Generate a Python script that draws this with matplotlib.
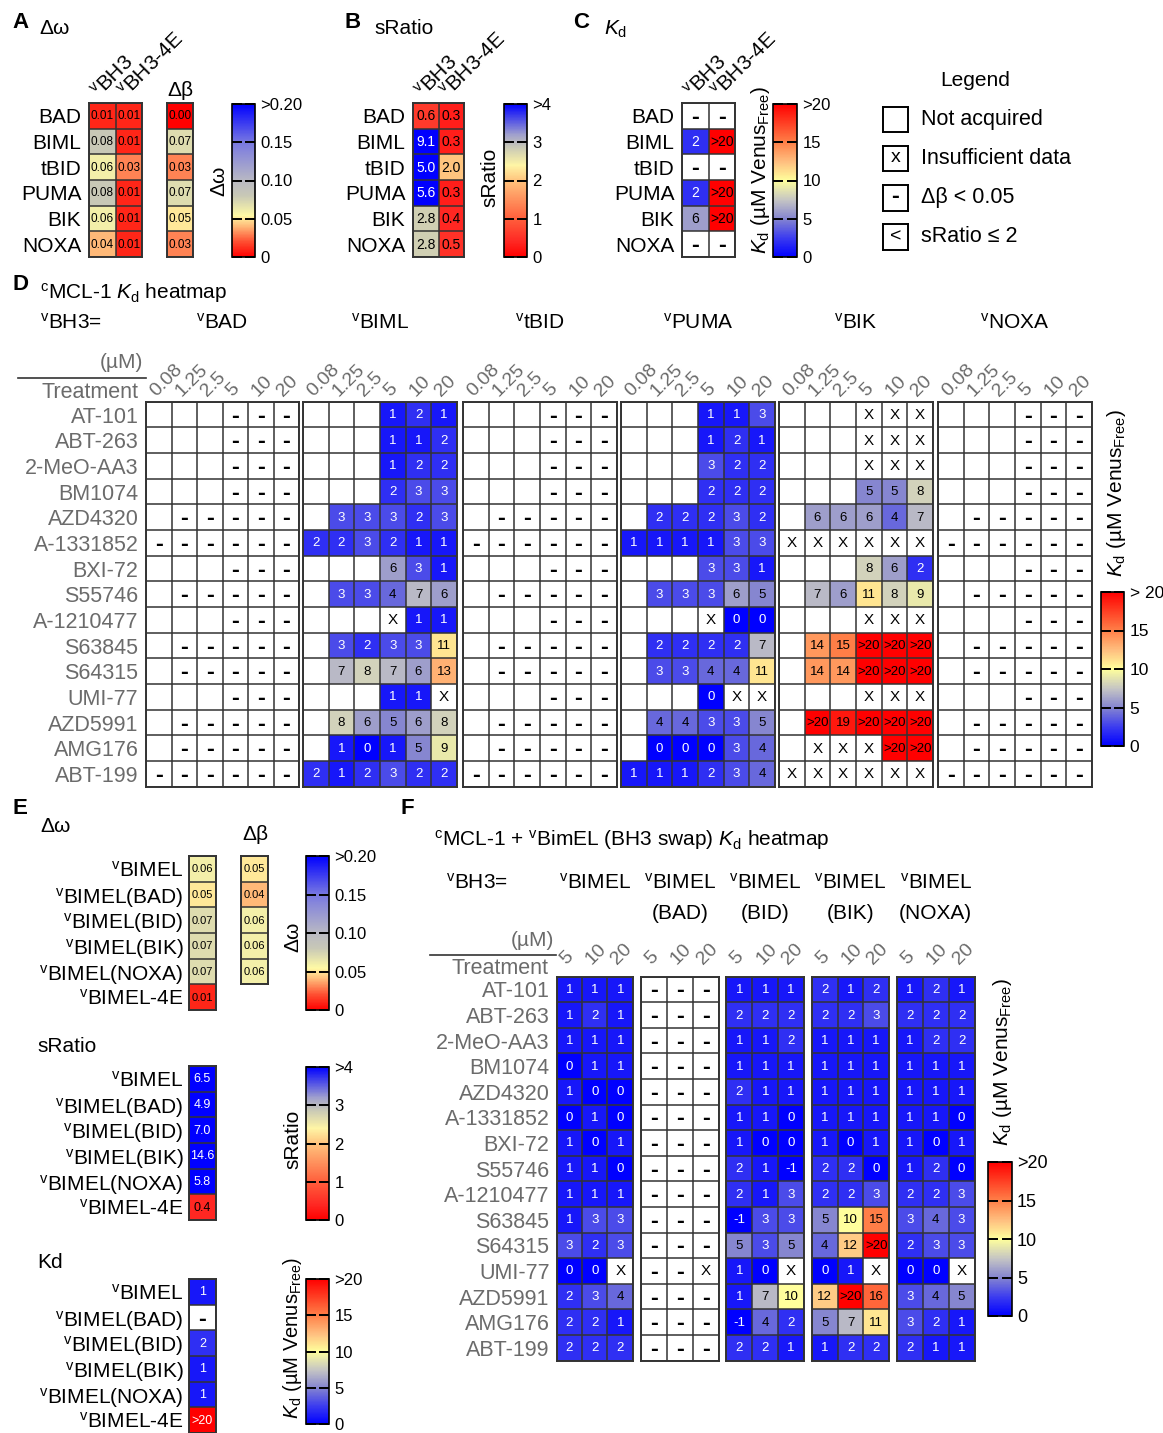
import numpy as np
import matplotlib
matplotlib.use('Agg')
import matplotlib.pyplot as plt
from matplotlib.colors import LinearSegmentedColormap, Normalize
from matplotlib.cm import ScalarMappable
from matplotlib.lines import Line2D

plt.rcParams['font.family'] = ['Liberation Sans', 'DejaVu Sans']
plt.rcParams['mathtext.fontset'] = 'custom'
plt.rcParams['mathtext.rm'] = 'Liberation Sans'
plt.rcParams['mathtext.it'] = 'Liberation Sans:italic'
plt.rcParams['mathtext.bf'] = 'Liberation Sans:bold'

# ---------------- data ----------------
bh3_names = ['BAD', 'BIML', 'tBID', 'PUMA', 'BIK', 'NOXA']
a_dw_bh3 = [0.01, 0.08, 0.06, 0.08, 0.06, 0.04]
a_dw_4e = [0.01, 0.01, 0.03, 0.01, 0.01, 0.01]
a_dbeta = [0.00, 0.07, 0.03, 0.07, 0.05, 0.03]
b_sr_bh3 = [0.6, 9.1, 5.0, 5.6, 2.8, 2.8]
b_sr_4e = [0.3, 0.3, 2.0, 0.3, 0.4, 0.5]
c_kd_bh3 = ['-', '2', '-', '2', '6', '-']
c_kd_4e = ['-', '>20', '-', '>20', '>20', '-']

treatments = ['AT-101', 'ABT-263', '2-MeO-AA3', 'BM1074', 'AZD4320', 'A-1331852',
              'BXI-72', 'S55746', 'A-1210477', 'S63845', 'S64315', 'UMI-77',
              'AZD5991', 'AMG176', 'ABT-199']
d_concs = ['0.08', '1.25', '2.5', '5', '10', '20']
d_groups = ['BAD', 'BIML', 'tBID', 'PUMA', 'BIK', 'NOXA']
# '.' = not acquired, '-' = delta beta < 0.05, 'X' = insufficient data
d_BAD = ['. . . - - -', '. . . - - -', '. . . - - -', '. . . - - -', '. - - - - -',
         '- - - - - -', '. . . - - -', '. - - - - -', '. . . - - -', '. - - - - -',
         '. - - - - -', '. . . - - -', '. - - - - -', '. - - - - -', '- - - - - -']
d_BIML = ['. . . 1 2 1', '. . . 1 1 2', '. . . 1 2 2', '. . . 2 3 3', '. 3 3 3 2 3',
          '2 2 3 2 1 1', '. . . 6 3 1', '. 3 3 4 7 6', '. . . X 1 1', '. 3 2 3 3 11',
          '. 7 8 7 6 13', '. . . 1 1 X', '. 8 6 5 6 8', '. 1 0 1 5 9', '2 1 2 3 2 2']
d_tBID = ['. . . - - -', '. . . - - -', '. . . - - -', '. . . - - -', '. - - - - -',
          '- - - - - -', '. . . - - -', '. - - - - -', '. . . - - -', '. - - - - -',
          '. - - - - -', '. . . - - -', '. - - - - -', '. - - - - -', '- - - - - -']
d_PUMA = ['. . . 1 1 3', '. . . 1 2 1', '. . . 3 2 2', '. . . 2 2 2', '. 2 2 2 3 2',
          '1 1 1 1 3 3', '. . . 3 3 1', '. 3 3 3 6 5', '. . . X 0 0', '. 2 2 2 2 7',
          '. 3 3 4 4 11', '. . . 0 X X', '. 4 4 3 3 5', '. 0 0 0 3 4', '1 1 1 2 3 4']
d_BIK = ['. . . X X X', '. . . X X X', '. . . X X X', '. . . 5 5 8', '. 6 6 6 4 7',
         'X X X X X X', '. . . 8 6 2', '. 7 6 11 8 9', '. . . X X X', '. 14 15 >20 >20 >20',
         '. 14 14 >20 >20 >20', '. . . X X X', '. >20 19 >20 >20 >20', '. X X X >20 >20',
         'X X X X X X']
d_NOXA = ['. . . - - -', '. . . - - -', '. . . - - -', '. . . - - -', '. - - - - -',
          '- - - - - -', '. . . - - -', '. - - - - -', '. . . - - -', '. - - - - -',
          '. - - - - -', '. . . - - -', '. - - - - -', '. - - - - -', '- - - - - -']

e_names = ['BIMEL', 'BIMEL(BAD)', 'BIMEL(BID)', 'BIMEL(BIK)', 'BIMEL(NOXA)', 'BIMEL-4E']
e_dw = [0.06, 0.05, 0.07, 0.07, 0.07, 0.01]
e_dbeta = [0.05, 0.04, 0.06, 0.06, 0.06]
e_sr = [6.5, 4.9, 7.0, 14.6, 5.8, 0.4]
e_kd = ['1', '-', '2', '1', '1', '>20']

f_concs = ['5', '10', '20']
f_groups = ['', '(BAD)', '(BID)', '(BIK)', '(NOXA)']
f_BIMEL = ['1 1 1', '1 2 1', '1 1 1', '0 1 1', '1 0 0', '0 1 0', '1 0 1', '1 1 0',
           '1 1 1', '1 3 3', '3 2 3', '0 0 X', '2 3 4', '2 2 1', '2 2 2']
f_BAD = ['- - -', '- - -', '- - -', '- - -', '- - -', '- - -', '- - -', '- - -',
         '- - -', '- - -', '- - -', '- - X', '- - -', '- - -', '- - -']
f_BID = ['1 1 1', '2 2 2', '1 1 2', '1 1 1', '2 1 1', '1 1 0', '1 0 0', '2 1 -1',
         '2 1 3', '-1 3 3', '5 3 5', '1 0 X', '1 7 10', '-1 4 2', '2 2 1']
f_BIK = ['2 1 2', '2 2 3', '1 1 1', '1 1 1', '1 1 1', '1 1 1', '1 0 1', '2 2 0',
         '2 2 3', '5 10 15', '4 12 >20', '0 1 X', '12 >20 16', '5 7 11', '1 2 2']
f_NOXA = ['1 2 1', '2 2 2', '1 2 2', '1 1 1', '1 1 1', '1 1 0', '1 0 1', '1 2 0',
          '2 2 3', '3 4 3', '2 3 3', '0 0 X', '3 4 5', '3 2 1', '2 1 1']

# ---------------- colormaps ----------------
kd_cmap = LinearSegmentedColormap.from_list('kd', [
    (0, '#0000ff'), (0.12, '#3a3af0'), (0.25, '#8585d0'), (0.37, '#c4c4c4'),
    (0.5, '#ffff9c'), (0.62, '#ffc080'), (0.75, '#ff8048'), (1, '#ff0000')]).with_extremes(bad='white')
dw_cmap = LinearSegmentedColormap.from_list('dw', [
    (0, '#ff0000'), (0.1, '#ff5032'), (0.2, '#ffb978'), (0.27, '#fffaa5'),
    (0.4, '#c8c8b6'), (0.5, '#b9b9c3'), (0.75, '#7878e1'), (1, '#0000ff')]).with_extremes(bad='white')
sr_cmap = LinearSegmentedColormap.from_list('sr', [
    (0, '#ff0000'), (0.1, '#ff2823'), (0.25, '#ff5f3c'), (0.5, '#ffc37d'),
    (0.6, '#fff5a5'), (0.72, '#c8c8b6'), (0.8, '#a0a0cd'), (1, '#0000ff')]).with_extremes(bad='white')
kd_norm = Normalize(0, 20)
dw_norm = Normalize(0, 0.2)
sr_norm = Normalize(0, 4)

GRAY = '#6b6b6b'
W, H = 1163, 1433
fig = plt.figure(figsize=(W / 100, H / 100), dpi=100)


def box(x0, y0, x1, y1):
    return [x0 / W, 1 - y1 / H, (x1 - x0) / W, (y1 - y0) / H]


def ftext(x, y, s, **kw):
    kw.setdefault('va', 'center')
    return fig.text(x / W, 1 - y / H, s, **kw)


def tokval(t):
    if t.startswith('>'):
        return float(t[1:]) + 5
    try:
        return float(t)
    except ValueError:
        return np.nan


def vsup(s):
    return r'$^{\mathrm{v}}$' + s


def heat(px, rows, cmap, norm, fs=8.5, white=None, ylabels=None, ylab_kw=None,
         xlabels=None, xlab_kw=None, ypad=5.5, xpad=1, dash_fs=17):
    tokens = [r.split() if isinstance(r, str) else list(r) for r in rows]
    nr, nc = len(tokens), len(tokens[0])
    vals = np.array([[tokval(t) for t in row] for row in tokens])
    ax = fig.add_axes(box(*px))
    ax.pcolormesh(np.arange(nc + 1), np.arange(nr + 1), np.ma.masked_invalid(vals),
                  cmap=cmap, norm=norm)
    ax.set_xlim(0, nc)
    ax.set_ylim(nr, 0)
    ax.set_xticks(np.arange(nc + 1), minor=True)
    ax.set_yticks(np.arange(nr + 1), minor=True)
    ax.grid(which='minor', color='#333333', linewidth=1.1)
    ax.grid(which='major', visible=False)
    ax.set_axisbelow(False)
    for s in ax.spines.values():
        s.set_linewidth(1.4)
        s.set_color('#333333')
    if ylabels is not None:
        ax.set_yticks(np.arange(nr) + 0.5, labels=ylabels, **(ylab_kw or {}))
    else:
        ax.set_yticks([])
    if xlabels is not None:
        ax.xaxis.tick_top()
        ax.set_xticks(np.arange(nc) + 0.5, labels=xlabels, rotation=45, ha='left',
                      rotation_mode='anchor', **(xlab_kw or {}))
    else:
        ax.set_xticks([])
    ax.tick_params(which='both', length=0)
    ax.tick_params(axis='y', pad=ypad)
    ax.tick_params(axis='x', pad=xpad)
    for i in range(nr):
        for j in range(nc):
            t = tokens[i][j]
            if t == '.':
                continue
            v = vals[i, j]
            if t == '-':
                ax.text(j + .5, i + .56, '-', ha='center', va='center', fontsize=dash_fs,
                        fontweight='bold', zorder=4)
            elif t == 'X':
                ax.text(j + .5, i + .52, 'X', ha='center', va='center', fontsize=fs + 1.5,
                        zorder=4)
            else:
                c = 'white' if (white is not None and white(v)) else 'black'
                ax.text(j + .5, i + .52, t, ha='center', va='center', fontsize=fs, color=c,
                        zorder=4)
    return ax


def cbar(px, cmap, norm, ticks, labels, fs=12):
    cax = fig.add_axes(box(*px))
    cb = fig.colorbar(ScalarMappable(norm=norm, cmap=cmap), cax=cax)
    cb.set_ticks(ticks, labels=labels)
    cax.minorticks_off()
    cax.tick_params(which='both', direction='in', length=7, width=1.4, labelsize=fs,
                    left=True, right=True, labelleft=False, labelright=True, pad=4)
    cb.outline.set_linewidth(1.2)
    return cb


KD_LABEL = r'$K_{\mathrm{d}}$ (µM Venus$_{\mathrm{Free}}$)'
ROWFS = 15

# ---------------- Panel A ----------------
ftext(12, 22, 'A', fontsize=16, fontweight='bold')
ftext(39, 29, 'Δω', fontsize=15)
rows_a = [[f'{a:.2f}', f'{b:.2f}'] for a, b in zip(a_dw_bh3, a_dw_4e)]
heat((89, 103, 142, 257), rows_a, dw_cmap, dw_norm, fs=8.5,
     ylabels=bh3_names, ylab_kw=dict(fontsize=ROWFS),
     xlabels=[vsup('BH3'), vsup('BH3-4E')], xlab_kw=dict(fontsize=15))
heat((167, 103, 193, 257), [[f'{v:.2f}'] for v in a_dbeta], dw_cmap, dw_norm, fs=8.5)
ftext(180, 91, 'Δβ', fontsize=15, ha='center')
cbar((232, 104, 255, 257), dw_cmap, dw_norm, [0, .05, .10, .15, .20],
     ['0', '0.05', '0.10', '0.15', '>0.20'])
ftext(219, 181, 'Δω', fontsize=15, rotation=90, ha='center')

# ---------------- Panel B ----------------
ftext(345, 22, 'B', fontsize=16, fontweight='bold')
ftext(374, 29, 'sRatio', fontsize=15)
rows_b = [[f'{a:.1f}', f'{b:.1f}'] for a, b in zip(b_sr_bh3, b_sr_4e)]
heat((413, 103, 464, 257), rows_b, sr_cmap, sr_norm, fs=10, white=lambda v: v > 3.5,
     ylabels=bh3_names, ylab_kw=dict(fontsize=ROWFS),
     xlabels=[vsup('BH3'), vsup('BH3-4E')], xlab_kw=dict(fontsize=15))
cbar((504, 104, 527, 257), sr_cmap, sr_norm, [0, 1, 2, 3, 4], ['0', '1', '2', '3', '>4'])
ftext(490, 177, 'sRatio', fontsize=15, rotation=90, ha='center')

# ---------------- Panel C ----------------
ftext(573, 22, 'C', fontsize=16, fontweight='bold')
ftext(604, 29, r'$K_{\mathrm{d}}$', fontsize=15)
rows_c = [[a, b] for a, b in zip(c_kd_bh3, c_kd_4e)]
heat((682, 103, 735, 257), rows_c, kd_cmap, kd_norm, fs=10, white=lambda v: v < 4,
     ylabels=bh3_names, ylab_kw=dict(fontsize=ROWFS),
     xlabels=[vsup('BH3'), vsup('BH3-4E')], xlab_kw=dict(fontsize=15))
cbar((773, 104, 797, 257), kd_cmap, kd_norm, [0, 5, 10, 15, 20], ['0', '5', '10', '15', '>20'])
ftext(761, 170, KD_LABEL, fontsize=15, rotation=90, ha='center')

# Legend
ftext(975, 80, 'Legend', fontsize=15, ha='center')
legend_items = [((107, 132), '', 'Not acquired'), ((146, 171), 'x', 'Insufficient data'),
                ((185, 211), '-', 'Δβ < 0.05'), ((224, 250), '<', 'sRatio ≤ 2')]
for (y0, y1), sym, lab in legend_items:
    lax = fig.add_axes(box(883, y0, 908, y1))
    lax.set_xticks([])
    lax.set_yticks([])
    for s in lax.spines.values():
        s.set_linewidth(1.4)
    if sym:
        lax.text(0.5, 0.55 if sym == '-' else 0.52, sym, ha='center', va='center',
                 fontsize=17 if sym == '-' else 14,
                 fontweight='bold' if sym == '-' else 'normal', transform=lax.transAxes)
    ftext(921, (y0 + y1) / 2, lab, fontsize=15.5)

# ---------------- Panel D ----------------
ftext(12, 284, 'D', fontsize=16, fontweight='bold')
ftext(40, 293, r'$^{\mathrm{c}}$MCL-1 $K_{\mathrm{d}}$ heatmap', fontsize=15)
ftext(40, 323, vsup('BH3='), fontsize=15)
d_data = [d_BAD, d_BIML, d_tBID, d_PUMA, d_BIK, d_NOXA]
d_x = [(146, 299), (303, 457), (463, 617), (621, 775), (779, 933), (938, 1092)]
for k, (name, rows, (x0, x1)) in enumerate(zip(d_groups, d_data, d_x)):
    heat((x0, 401.7, x1, 786.7), rows, kd_cmap, kd_norm, fs=9.5, white=lambda v: v < 4,
         ylabels=treatments if k == 0 else None,
         ylab_kw=dict(fontsize=15.5, color=GRAY),
         xlabels=d_concs, xlab_kw=dict(fontsize=14, color=GRAY), ypad=5.5, xpad=1)
    ftext((x0 + x1) / 2, 323, vsup(name), fontsize=15, ha='center')
ftext(143, 363, '(µM)', fontsize=15, ha='right', color=GRAY)
fig.add_artist(Line2D([18 / W, 146 / W], [1 - 378 / H] * 2, color='#333333', lw=1.2))
ftext(139, 393, 'Treatment', fontsize=15.5, ha='right', color=GRAY)
cbar((1101, 592, 1124, 746), kd_cmap, kd_norm, [0, 5, 10, 15, 20], ['0', '5', '10', '15', '> 20'],
     fs=12.5)
ftext(1117, 493, KD_LABEL, fontsize=15, rotation=90, ha='center')

# ---------------- Panel E ----------------
ftext(12, 808, 'E', fontsize=16, fontweight='bold')
ftext(40, 826, 'Δω', fontsize=15)
ftext(255, 835, 'Δβ', fontsize=15, ha='center')
e_labels = [vsup(n) for n in e_names]
heat((189, 856, 216, 1010), [[f'{v:.2f}'] for v in e_dw], dw_cmap, dw_norm, fs=8,
     ylabels=e_labels, ylab_kw=dict(fontsize=ROWFS), ypad=4)
heat((241, 856, 268, 984.3), [[f'{v:.2f}'] for v in e_dbeta], dw_cmap, dw_norm, fs=8)
cbar((306, 856, 329, 1010), dw_cmap, dw_norm, [0, .05, .10, .15, .20],
     ['0', '0.05', '0.10', '0.15', '>0.20'])
ftext(293, 937, 'Δω', fontsize=15, rotation=90, ha='center')

ftext(37, 1047, 'sRatio', fontsize=15)
heat((189, 1066, 216, 1220), [[f'{v:.1f}'] for v in e_sr], sr_cmap, sr_norm, fs=9,
     white=lambda v: v > 3.5, ylabels=e_labels, ylab_kw=dict(fontsize=ROWFS), ypad=4)
cbar((306, 1067, 329, 1220), sr_cmap, sr_norm, [0, 1, 2, 3, 4], ['0', '1', '2', '3', '>4'])
ftext(293, 1139, 'sRatio', fontsize=15, rotation=90, ha='center')

ftext(37, 1262, 'Kd', fontsize=15)
heat((189, 1279, 216, 1433), [[v] for v in e_kd], kd_cmap, kd_norm, fs=9,
     white=lambda v: v < 4 or v > 20, ylabels=e_labels, ylab_kw=dict(fontsize=ROWFS), ypad=4)
cbar((306, 1279, 329, 1424), kd_cmap, kd_norm, [0, 5, 10, 15, 20], ['0', '5', '10', '15', '>20'])
ftext(293, 1338, KD_LABEL, fontsize=14.5, rotation=90, ha='center')

# ---------------- Panel F ----------------
ftext(400, 808, 'F', fontsize=16, fontweight='bold')
ftext(434, 840, r'$^{\mathrm{c}}$MCL-1 + $^{\mathrm{v}}$BimEL (BH3 swap) $K_{\mathrm{d}}$ heatmap',
      fontsize=15)
ftext(446, 883, vsup('BH3='), fontsize=15)
f_data = [f_BIMEL, f_BAD, f_BID, f_BIK, f_NOXA]
f_x = [(556.5, 633), (641, 718.5), (726.5, 804), (812, 889), (897, 974.5)]
for k, (sub, rows, (x0, x1)) in enumerate(zip(f_groups, f_data, f_x)):
    heat((x0, 976.6, x1, 1360.5), rows, kd_cmap, kd_norm, fs=9.5, white=lambda v: v < 4,
         ylabels=treatments if k == 0 else None,
         ylab_kw=dict(fontsize=15.5, color=GRAY),
         xlabels=f_concs, xlab_kw=dict(fontsize=14, color=GRAY), ypad=5, xpad=6)
    ftext((x0 + x1) / 2, 883, vsup('BIMEL'), fontsize=15, ha='center')
    if sub:
        ftext((x0 + x1) / 2, 914, sub, fontsize=15, ha='center')
ftext(554, 941, '(µM)', fontsize=15, ha='right', color=GRAY)
fig.add_artist(Line2D([430 / W, 556 / W], [1 - 955 / H] * 2, color='#333333', lw=1.2))
ftext(548, 969, 'Treatment', fontsize=15.5, ha='right', color=GRAY)
cbar((988, 1162, 1011.5, 1316), kd_cmap, kd_norm, [0, 5, 10, 15, 20],
     ['0', '5', '10', '15', '>20'], fs=13)
ftext(1002, 1062, KD_LABEL, fontsize=15, rotation=90, ha='center')

fig.savefig('out.png', dpi=100)
